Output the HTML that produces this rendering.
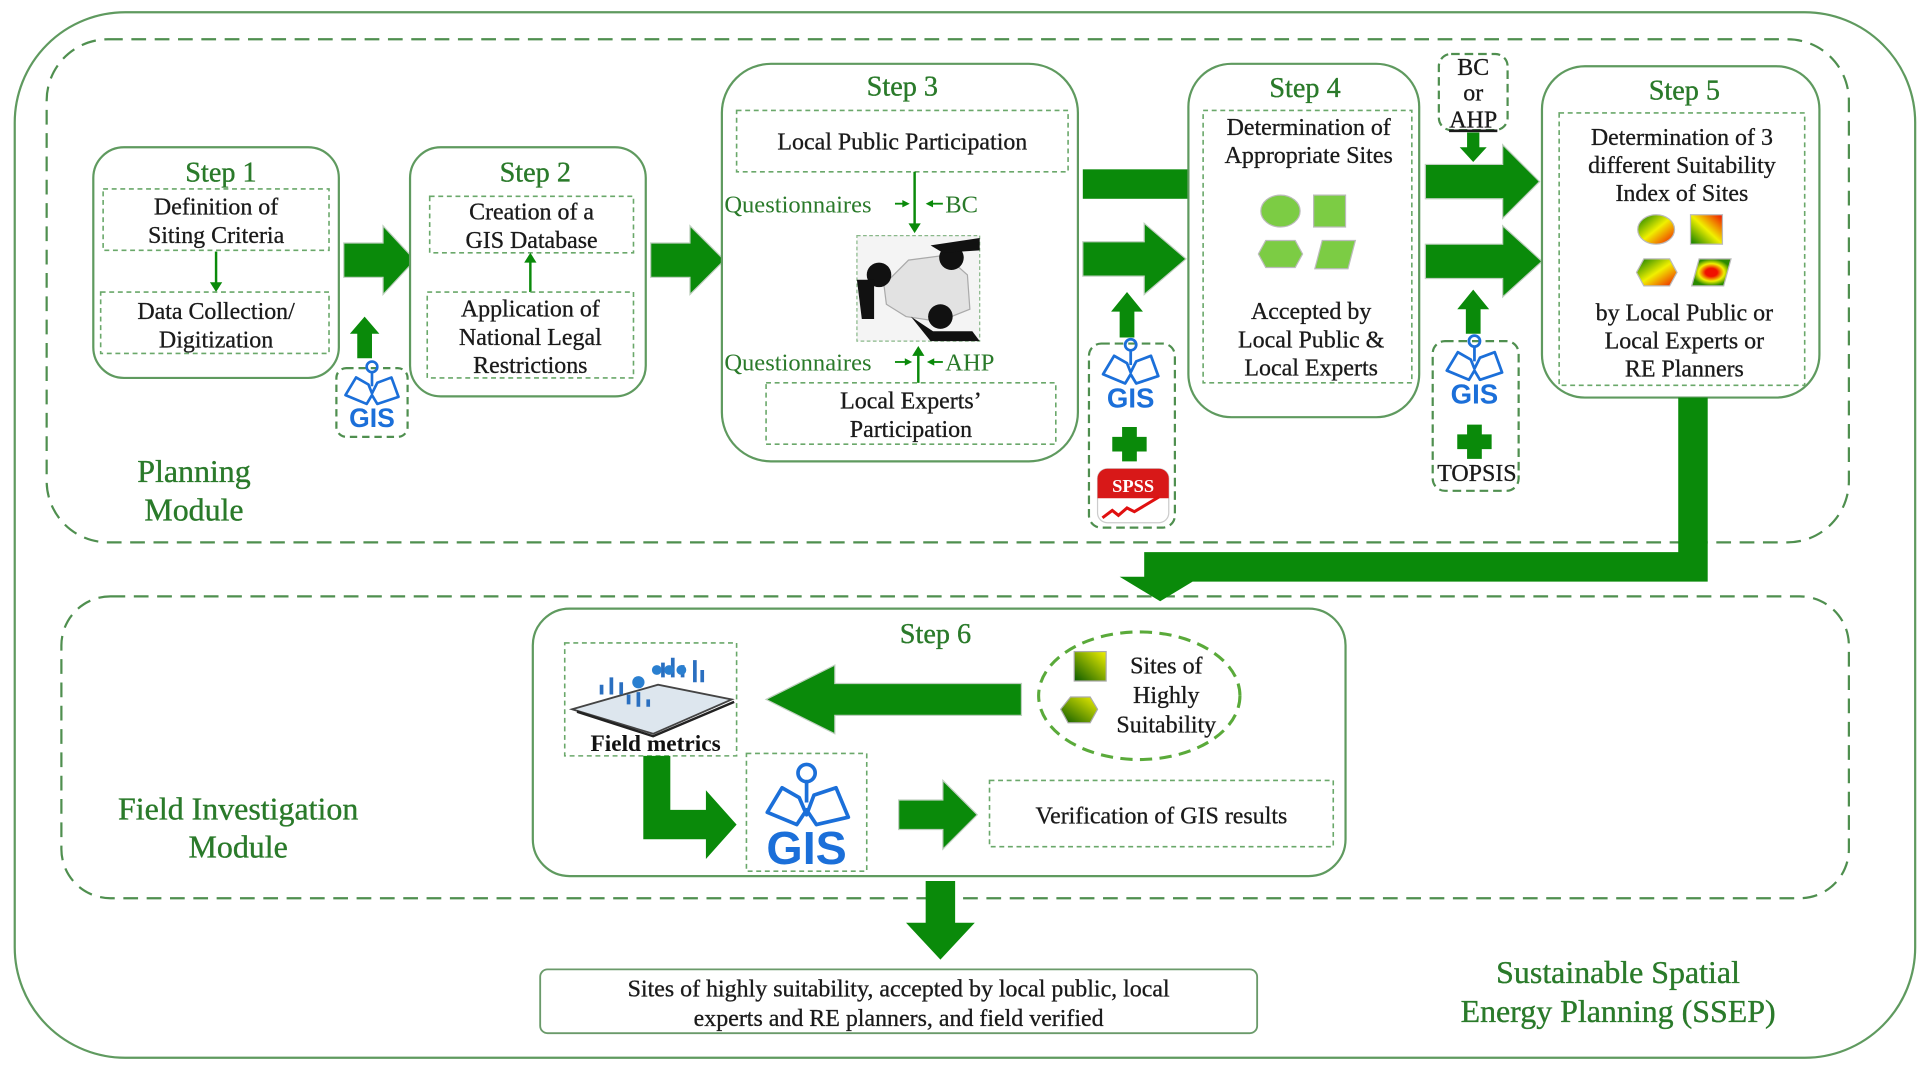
<!DOCTYPE html>
<html><head><meta charset="utf-8"><style>
html,body{margin:0;padding:0;background:#fff;}
svg{display:block;}
text{font-family:"Liberation Serif",serif;}
.g{fill:#2a7a2a;}
.t{fill:#1a1a1a;font-size:19.5px;text-anchor:middle;stroke:#1a1a1a;stroke-width:0.25;}
.st{fill:#2a7a2a;font-size:23px;text-anchor:middle;stroke:#2a7a2a;stroke-width:0.3;}
.big{fill:#2a7a2a;font-size:26px;text-anchor:middle;stroke:#2a7a2a;stroke-width:0.3;}
.box{fill:#fff;stroke:#5f9a5f;stroke-width:1.8;}
.dash{fill:none;stroke:#6aa86a;stroke-width:1.3;stroke-dasharray:4 3;}
.ldash{fill:none;stroke:#4f8f4f;stroke-width:1.8;stroke-dasharray:12 7;}
.arr{fill:#0a8a0a;stroke:#bfcfbf;stroke-width:1;}
.gis{fill:none;stroke:#1b6fd9;stroke-width:3;stroke-linejoin:round;}
.gist{fill:#1b6fd9;font-family:"Liberation Sans",sans-serif;font-weight:bold;text-anchor:middle;}
</style></head><body>
<svg width="1925" height="1070" viewBox="0 0 1568 872" preserveAspectRatio="none" xmlns="http://www.w3.org/2000/svg">
<defs>
<linearGradient id="rg" x1="0" y1="0" x2="1" y2="1"><stop offset="0" stop-color="#0a7a00"/><stop offset="0.5" stop-color="#f0f000"/><stop offset="1" stop-color="#f01000"/></linearGradient>
<linearGradient id="rg2" x1="1" y1="0" x2="0" y2="1"><stop offset="0" stop-color="#f01000"/><stop offset="0.5" stop-color="#f0f000"/><stop offset="1" stop-color="#0a7a00"/></linearGradient>
<radialGradient id="rr"><stop offset="0.3" stop-color="#f01000"/><stop offset="0.65" stop-color="#f0f000"/><stop offset="1" stop-color="#2a8a00"/></radialGradient>
<linearGradient id="yg" x1="1" y1="0" x2="0" y2="1"><stop offset="0" stop-color="#f0f000"/><stop offset="1" stop-color="#0a5a00"/></linearGradient>
</defs>
<rect x="12" y="10" width="1548" height="852" rx="90" class="box" style="fill:none"/>
<rect x="38" y="32" width="1468" height="410" rx="50" class="ldash"/>
<rect x="50" y="486" width="1456" height="246" rx="40" class="ldash"/>

<!-- Step 1 -->
<rect x="76" y="120" width="200" height="188" rx="25" class="box"/>
<text x="180" y="148" class="st">Step 1</text>
<rect x="84" y="154" width="184" height="50" class="dash"/>
<text x="176" y="175" class="t">Definition of</text>
<text x="176" y="198" class="t">Siting Criteria</text>
<path d="M176 205 V232" stroke="#0a8a0a" stroke-width="2"/><path d="M171 230 L176 238 L181 230Z" fill="#0a8a0a"/>
<rect x="82" y="238" width="186" height="50" class="dash"/>
<text x="176" y="260" class="t">Data Collection/</text>
<text x="176" y="283" class="t">Digitization</text>

<polygon class="arr" points="280,198 312,198 312,184 338,212 312,240 312,226 280,226"/>
<polygon points="291,292 291,272 285,272 297,258 309,272 303,272 303,292" fill="#0a8a0a"/>
<rect x="274" y="300" width="58" height="56" rx="8" class="ldash" style="stroke-dasharray:6 4"/>
<g transform="translate(303,322) scale(0.72)"><path class="gis" d="M-30 0 L-18 -20 L-4 -12 L0 -2 L6 -14 L22 -20 L30 2 L6 10 L0 0 L-6 10 Z"/><circle cx="0" cy="-32" r="6" class="gis"/><path d="M0 -26 L0 -10" class="gis"/><text x="0" y="36" class="gist" font-size="30">GIS</text></g>

<!-- Step 2 -->
<rect x="334" y="120" width="192" height="203" rx="25" class="box"/>
<text x="436" y="148" class="st">Step 2</text>
<rect x="350" y="160" width="166" height="46" class="dash"/>
<text x="433" y="179" class="t">Creation of a</text>
<text x="433" y="202" class="t">GIS Database</text>
<path d="M432 238 V212" stroke="#0a8a0a" stroke-width="2"/><path d="M427 214 L432 206 L437 214Z" fill="#0a8a0a"/>
<rect x="348" y="238" width="168" height="70" class="dash"/>
<text x="432" y="258" class="t">Application of</text>
<text x="432" y="281" class="t">National Legal</text>
<text x="432" y="304" class="t">Restrictions</text>

<polygon class="arr" points="530,198 562,198 562,184 590,212 562,240 562,226 530,226"/>

<!-- Step 3 -->
<rect x="588" y="52" width="290" height="324" rx="40" class="box"/>
<text x="735" y="78" class="st">Step 3</text>
<rect x="600" y="90" width="270" height="50" class="dash"/>
<text x="735" y="122" class="t">Local Public Participation</text>
<text x="590" y="173" class="g" font-size="20">Questionnaires</text>
<path d="M729 166 H738" stroke="#0a8a0a" stroke-width="1.5"/><path d="M735 163 L741 166 L735 169Z" fill="#0a8a0a"/>
<path d="M745 140 V184" stroke="#0a8a0a" stroke-width="2"/><path d="M740 182 L745 190 L750 182Z" fill="#0a8a0a"/>
<path d="M756 166 H768" stroke="#0a8a0a" stroke-width="1.5"/><path d="M760 163 L754 166 L760 169Z" fill="#0a8a0a"/>
<text x="770" y="173" class="g" font-size="20">BC</text>
<rect x="698" y="192" width="100" height="86" fill="#f4f4f4" stroke="#8ab88a" stroke-dasharray="3 2"/>
<path d="M720 232 L740 212 L770 208 L788 224 L790 252 L765 262 L738 258 L722 248Z" fill="#e2e2e2" stroke="#aaa"/>
<circle cx="716" cy="224" r="10" fill="#111"/><path d="M698 228 H712 V260 H702 Z" fill="#111"/>
<circle cx="775" cy="210" r="10" fill="#111"/><path d="M758 200 L798 194 V204 L768 206 Z" fill="#111"/>
<circle cx="766" cy="258" r="10" fill="#111"/><path d="M742 258 L760 270 L792 270 L798 278 L758 278 Z" fill="#111"/>
<text x="590" y="302" class="g" font-size="20">Questionnaires</text>
<path d="M729 295 H740" stroke="#0a8a0a" stroke-width="1.5"/><path d="M737 292 L743 295 L737 298Z" fill="#0a8a0a"/>
<path d="M748 312 V288" stroke="#0a8a0a" stroke-width="2"/><path d="M743 290 L748 282 L753 290Z" fill="#0a8a0a"/>
<path d="M757 295 H768" stroke="#0a8a0a" stroke-width="1.5"/><path d="M761 292 L755 295 L761 298Z" fill="#0a8a0a"/>
<text x="770" y="302" class="g" font-size="20">AHP</text>
<rect x="624" y="312" width="236" height="50" class="dash"/>
<text x="742" y="333" class="t">Local Experts’</text>
<text x="742" y="356" class="t">Participation</text>

<rect x="882" y="138" width="86" height="24" fill="#0a8a0a"/>
<polygon class="arr" points="882,197 932,197 932,182 966,211 932,240 932,225 882,225"/>
<polygon points="912,275 912,254 905,254 918,238 931,254 924,254 924,275" fill="#0a8a0a"/>
<rect x="887" y="280" width="70" height="150" rx="10" class="ldash" style="stroke-dasharray:7 4"/>
<g transform="translate(921,305) scale(0.75)"><path class="gis" d="M-30 0 L-18 -20 L-4 -12 L0 -2 L6 -14 L22 -20 L30 2 L6 10 L0 0 L-6 10 Z"/><circle cx="0" cy="-32" r="6" class="gis"/><path d="M0 -26 L0 -10" class="gis"/><text x="0" y="36" class="gist" font-size="30">GIS</text></g>
<path d="M914 348 h12 v8 h8 v12 h-8 v8 h-12 v-8 h-8 v-12 h8z" fill="#0a8a0a"/>
<rect x="894" y="382" width="58" height="44" rx="8" fill="#fff" stroke="#ccc"/>
<path d="M894 390 a8 8 0 0 1 8 -8 h42 a8 8 0 0 1 8 8 v16 h-58z" fill="#d81818"/>
<text x="923" y="401" font-family="Liberation Sans,sans-serif" font-weight="bold" font-size="15" fill="#fff" text-anchor="middle">SPSS</text>
<path d="M898 422 l8 -6 l5 4 l7 -6 l6 3 l20 -12" stroke="#e01010" stroke-width="2.5" fill="none"/>

<!-- Step 4 -->
<rect x="968" y="52" width="188" height="288" rx="35" class="box"/>
<text x="1063" y="79" class="st">Step 4</text>
<rect x="980" y="90" width="170" height="222" class="dash"/>
<text x="1066" y="110" class="t">Determination of</text>
<text x="1066" y="133" class="t">Appropriate Sites</text>
<ellipse cx="1043" cy="172" rx="16" ry="13" fill="#7ccc44" stroke="#bbb"/>
<rect x="1070" y="159" width="26" height="26" fill="#7ccc44" stroke="#bbb"/>
<polygon points="1031,196 1055,196 1061,207 1055,218 1031,218 1025,207" fill="#7ccc44" stroke="#bbb"/>
<polygon points="1077,196 1104,196 1098,219 1071,219" fill="#7ccc44" stroke="#bbb"/>
<text x="1068" y="260" class="t">Accepted by</text>
<text x="1068" y="283" class="t">Local Public &amp;</text>
<text x="1068" y="306" class="t">Local Experts</text>

<rect x="1172" y="44" width="56" height="62" rx="10" class="ldash" style="stroke-dasharray:7 4"/>
<text x="1200" y="61" class="t" font-size="18">BC</text>
<text x="1200" y="82" class="t" font-size="18">or</text>
<text x="1200" y="104" class="t" font-size="18" text-decoration="underline">AHP</text>
<polygon points="1195,108 1205,108 1205,120 1211,120 1200,132 1189,120 1195,120" fill="#0a8a0a"/>
<polygon class="arr" points="1161,134 1224,134 1224,118 1254,148 1224,178 1224,162 1161,162"/>
<polygon class="arr" points="1161,199 1224,199 1224,184 1256,213 1224,242 1224,227 1161,227"/>
<polygon points="1194,272 1194,252 1187,252 1200,236 1213,252 1206,252 1206,272" fill="#0a8a0a"/>
<rect x="1167" y="278" width="70" height="122" rx="10" class="ldash" style="stroke-dasharray:7 4"/>
<g transform="translate(1201,302) scale(0.75)"><path class="gis" d="M-30 0 L-18 -20 L-4 -12 L0 -2 L6 -14 L22 -20 L30 2 L6 10 L0 0 L-6 10 Z"/><circle cx="0" cy="-32" r="6" class="gis"/><path d="M0 -26 L0 -10" class="gis"/><text x="0" y="36" class="gist" font-size="30">GIS</text></g>
<path d="M1195 346 h12 v8 h8 v12 h-8 v8 h-12 v-8 h-8 v-12 h8z" fill="#0a8a0a"/>
<text x="1203" y="392" class="t" font-size="18">TOPSIS</text>

<!-- Step 5 -->
<rect x="1256" y="54" width="226" height="270" rx="35" class="box"/>
<text x="1372" y="81" class="st">Step 5</text>
<rect x="1270" y="92" width="200" height="222" class="dash"/>
<text x="1370" y="118" class="t">Determination of 3</text>
<text x="1370" y="141" class="t">different Suitability</text>
<text x="1370" y="164" class="t">Index of Sites</text>
<ellipse cx="1349" cy="187" rx="15" ry="12" fill="url(#rg)" stroke="#bbb"/>
<rect x="1377" y="175" width="26" height="24" fill="url(#rg2)" stroke="#bbb"/>
<polygon points="1339,211 1360,211 1366,222 1360,233 1339,233 1333,222" fill="url(#rg)" stroke="#bbb"/>
<polygon points="1384,211 1410,211 1404,233 1378,233" fill="url(#rr)" stroke="#bbb"/>
<text x="1372" y="261" class="t">by Local Public or</text>
<text x="1372" y="284" class="t">Local Experts or</text>
<text x="1372" y="307" class="t">RE Planners</text>

<path d="M1367 324 H1391 V474 H956 V470 H978 L945 490 L912 470 H932 V450 H1367Z" fill="#0a8a0a"/>

<text x="158" y="393" class="big">Planning</text>
<text x="158" y="424" class="big">Module</text>

<!-- Step 6 -->
<rect x="434" y="496" width="662" height="218" rx="30" class="box"/>
<text x="762" y="524" class="st">Step 6</text>
<rect x="460" y="524" width="140" height="92" class="dash"/>
<polygon points="466,578 536,558 596,570 532,598" fill="#dde6ee" stroke="#444" stroke-width="1.5"/>
<path d="M470 580 L532 600 L598 572" stroke="#222" stroke-width="2" fill="none"/>
<path d="M490 566 v-8 M498 566 v-14 M506 566 v-10 M540 552 v-12 M548 552 v-16 M556 552 v-10 M566 556 v-18 M572 556 v-10 M512 574 v-8 M520 576 v-12 M528 576 v-6" stroke="#2a6fc0" stroke-width="3"/>
<circle cx="520" cy="556" r="5" fill="#2a7fd0"/><circle cx="535" cy="546" r="4" fill="#2a7fd0"/><circle cx="545" cy="546" r="4" fill="#2a7fd0"/><circle cx="555" cy="546" r="4" fill="#2a7fd0"/>
<text x="534" y="612" font-size="19" font-weight="bold" fill="#111" text-anchor="middle">Field metrics</text>
<polygon class="arr" points="832,557 680,557 680,542 624,570 680,598 680,583 832,583"/>
<ellipse cx="928" cy="567" rx="82" ry="52" class="ldash" style="stroke:#5aaa3a;stroke-width:2.5;stroke-dasharray:10 6"/>
<rect x="875" y="531" width="26" height="24" fill="url(#yg)" stroke="#aaa"/>
<polygon points="864,578 872,568 888,568 894,578 888,589 870,589" fill="url(#yg)" stroke="#aaa"/>
<text x="950" y="549" class="t">Sites of</text>
<text x="950" y="573" class="t">Highly</text>
<text x="950" y="597" class="t">Suitability</text>
<path d="M524 616 H546 V660 H575 V644 L600 672 L575 700 V684 H524Z" fill="#0a8a0a"/>
<rect x="608" y="614" width="98" height="96" class="dash"/>
<g transform="translate(657,658)"><path class="gis" d="M-32 4 L-20 -16 L-6 -8 L0 6 L6 -10 L24 -16 L34 8 L8 14 L0 2 L-8 14 Z" stroke-width="4"/><circle cx="0" cy="-28" r="7" class="gis" stroke-width="4"/><path d="M0 -21 L0 -4" class="gis" stroke-width="4"/><text x="0" y="46" class="gist" font-size="38">GIS</text></g>
<polygon class="arr" points="732,652 768,652 768,636 796,664 768,692 768,676 732,676"/>
<rect x="806" y="636" width="280" height="54" class="dash"/>
<text x="946" y="671" class="t" font-size="20">Verification of GIS results</text>

<text x="194" y="668" class="big">Field Investigation</text>
<text x="194" y="699" class="big">Module</text>

<polygon points="754,718 778,718 778,752 794,752 766,782 738,752 754,752" fill="#0a8a0a"/>
<rect x="440" y="790" width="584" height="52" rx="6" fill="#fff" stroke="#6a9a6a" stroke-width="1.5"/>
<text x="732" y="812" class="t" font-size="20">Sites of highly suitability, accepted by local public, local</text>
<text x="732" y="836" class="t" font-size="20">experts and RE planners, and field verified</text>

<text x="1318" y="801" class="big">Sustainable Spatial</text>
<text x="1318" y="833" class="big">Energy Planning (SSEP)</text>
</svg>
</body></html>
